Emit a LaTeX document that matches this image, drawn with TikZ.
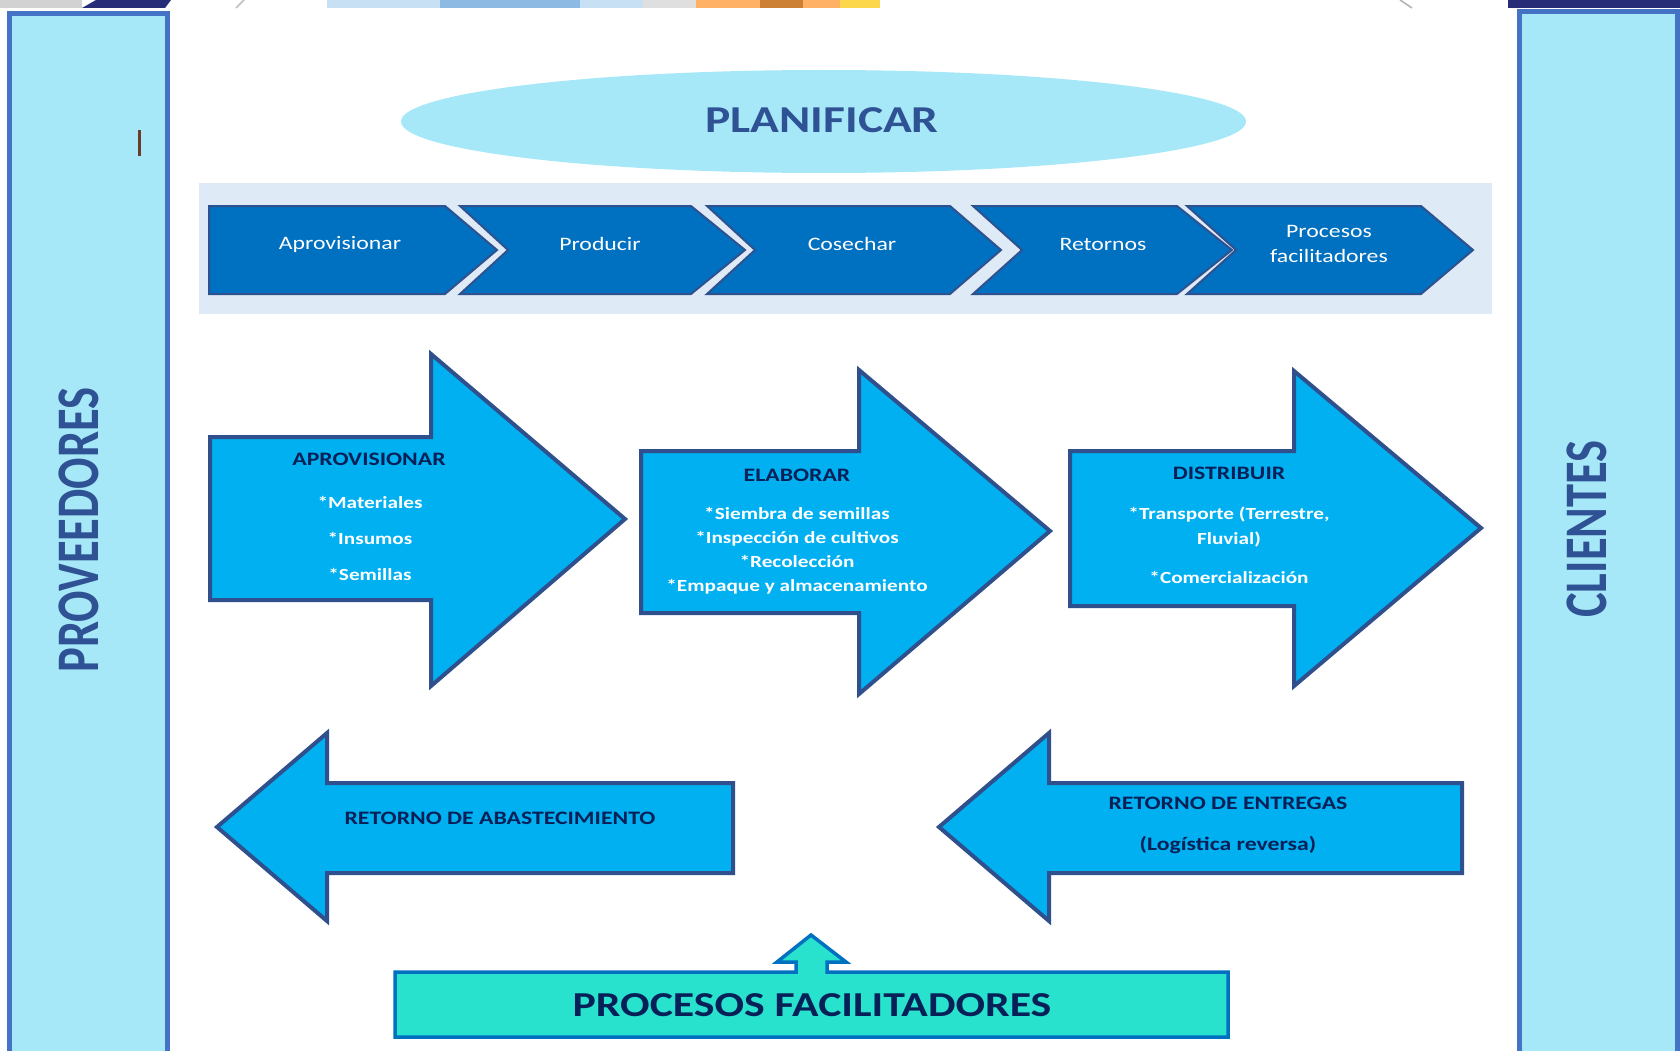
\documentclass[tikz,border=0pt]{standalone}
\usepackage{graphicx}
\usepackage{fontspec}
\setmainfont{Carlito}[FakeStretch=1.25]
\newfontfamily\sidefont{Carlito}
\definecolor{panelfill}{RGB}{166,232,248}
\definecolor{panelline}{RGB}{68,114,196}
\definecolor{titleblue}{RGB}{47,82,148}
\definecolor{bandfill}{RGB}{222,234,246}
\definecolor{chevfill}{RGB}{0,112,192}
\definecolor{chevline}{RGB}{47,82,143}
\definecolor{arrowfill}{RGB}{0,176,240}
\definecolor{arrowline}{RGB}{47,80,140}
\definecolor{navytext}{RGB}{8,32,88}
\definecolor{boxfill}{RGB}{40,226,206}
\definecolor{boxline}{RGB}{0,112,192}
\definecolor{cursorline}{RGB}{110,58,42}
\definecolor{stripblue}{RGB}{200,224,244}
\definecolor{stripmid}{RGB}{140,186,226}
\definecolor{stripnavy}{RGB}{40,45,120}
\usetikzlibrary{shapes.geometric}

\begin{document}
\begin{tikzpicture}[x=1pt,y=-1pt,
    panel/.style={fill=panelfill,draw=panelline,line width=5pt},
    sidelabel/.style={text=titleblue,rotate=90,font=\sidefont\bfseries\fontsize{46.5}{50}\selectfont},
    chev/.style={fill=chevfill,draw=chevline,line width=2pt,line join=miter},
    chevlabel/.style={text=white,align=center,font=\fontsize{19}{25}\selectfont},
    bigarrow/.style={fill=arrowfill,draw=arrowline,line width=4pt,line join=miter},
    headlabel/.style={text=navytext,align=center,font=\bfseries\fontsize{19}{41}\selectfont},
    itemlabel/.style={text=white,align=center,font=\bfseries\fontsize{17}{24}\selectfont}]
        \useasboundingbox (0,0) rectangle (1680,1051);
        \clip (0,0) rectangle (1680,1051);
        \fill[white] (0,0) rectangle (1680,1051);

        % strip of the cut picture on top
        \fill[gray!35] (0,0) rectangle (82,8);
        \fill[stripnavy] (82,8) -- (96,0) -- (171,0) -- (165,8) -- cycle;
        \draw[gray!50,line width=1.5pt] (236,8) -- (244,0);
        \fill[stripblue] (327,0) rectangle (643,8);
        \fill[stripmid] (440,0) rectangle (580,8);
        \fill[gray!25] (643,0) rectangle (696,8);
        \fill[orange!60] (696,0) rectangle (840,8);
        \fill[brown!80!orange] (760,0) rectangle (803,8);
        \fill[yellow!60!orange!70] (840,0) rectangle (880,8);
        \draw[gray!60,line width=1.5pt] (1400,0) -- (1412,8);
        \fill[stripnavy] (1508,0) rectangle (1680,8);

        % side panels
        \draw[panel] (9.5,13.5) rectangle (167,1070);
        \draw[panel] (1519.5,12) rectangle (1677,1070);
        \node[sidelabel] (prov) at (79,530) {\scalebox{1}[1.3]{PROVEEDORES}};
        \node[sidelabel] (cli) at (1587,529) {\scalebox{1}[1.3]{CLIENTES}};
        \coordinate (curA) at (139,130);
        \coordinate (curB) at (139,156);
        \draw[cursorline,line width=3pt] (curA) -- (curB);

        % planificar
        \node[ellipse,fill=panelfill,minimum width=845,minimum height=103,inner sep=0pt] (plan) at (823.5,121.5) {};
        \node[text=titleblue,font=\bfseries\fontsize{38}{40}\selectfont] (planT) at (822,120) {PLANIFICAR};

        % band of chevrons
        \fill[bandfill] (199,183) rectangle (1492,314);
        \draw[chev] (209,206) -- (445,206) -- (497,250) -- (445,294) -- (209,294) -- cycle;
        \draw[chev] (460,206) -- (691,206) -- (745,250) -- (691,294) -- (460,294) -- (508,250) -- cycle;
        \draw[chev] (707,206) -- (950,206) -- (1001,250) -- (950,294) -- (707,294) -- (755,250) -- cycle;
        \draw[chev] (973,206) -- (1177,206) -- (1232,250) -- (1177,294) -- (973,294) -- (1022,250) -- cycle;
        \draw[chev] (1187,206) -- (1421,206) -- (1473,250) -- (1421,294) -- (1187,294) -- (1236,250) -- cycle;
        \node[chevlabel] (c1) at (340,244) {Aprovisionar};
        \node[chevlabel] (c2) at (600,244) {Producir};
        \node[chevlabel] (c3) at (852,244) {Cosechar};
        \node[chevlabel] (c4) at (1103,244) {Retornos};
        \node[chevlabel] (c5) at (1329,243.5) {Procesos\\facilitadores};

        % big arrows to the right
        \draw[bigarrow] (210,437) -- (431,437) -- (431,354) -- (625,519) -- (431,686) -- (431,600) -- (210,600) -- cycle;
        \draw[bigarrow] (641,451) -- (859,451) -- (859,370) -- (1050,531) -- (859,694) -- (859,613) -- (641,613) -- cycle;
        \draw[bigarrow] (1070,451) -- (1294,451) -- (1294,371) -- (1481,528) -- (1294,686) -- (1294,606) -- (1070,606) -- cycle;

        \node[headlabel] (aprovT) at (369,459) {APROVISIONAR};
        \node[itemlabel,font=\bfseries\fontsize{17}{36}\selectfont] (aprovI) at (370,538) {*Materiales\\*Insumos\\*Semillas};
        \node[headlabel] (elabT) at (797,475) {ELABORAR};
        \node[itemlabel] (elabI) at (797,551) {*Siembra de semillas\\*Inspección de cultivos\\*Recolección\\*Empaque y almacenamiento};
        \node[headlabel] (distT) at (1229,473) {DISTRIBUIR};
        \node[itemlabel,font=\bfseries\fontsize{17}{25}\selectfont] (distI) at (1229,545) {*Transporte (Terrestre,\\Fluvial)\\[14pt]*Comercialización};

        % return arrows
        \draw[bigarrow] (733,783) -- (733,873) -- (327,873) -- (327,921) -- (217,827) -- (327,733) -- (327,783) -- cycle;
        \draw[bigarrow] (1462,783) -- (1462,873) -- (1049,873) -- (1049,921) -- (939,827) -- (1049,733) -- (1049,783) -- cycle;
        \node[headlabel] (retA) at (500,818) {RETORNO DE ABASTECIMIENTO};
        \node[headlabel] (retE) at (1228,825.5) {RETORNO DE ENTREGAS\\(Logística reversa)};

        % procesos facilitadores
        \draw[fill=boxfill,draw=boxline,line width=3.5pt,line join=miter]
            (395,972) -- (796,972) -- (796,962) -- (777,962) -- (811,935) -- (846,962) -- (827,962) -- (827,972)
            -- (1228,972) -- (1228,1037) -- (395,1037) -- cycle;
        \node[text=navytext,font=\bfseries\fontsize{35}{38}\selectfont] (proc) at (812,1005) {PROCESOS FACILITADORES};
      \end{tikzpicture}
\end{document}
